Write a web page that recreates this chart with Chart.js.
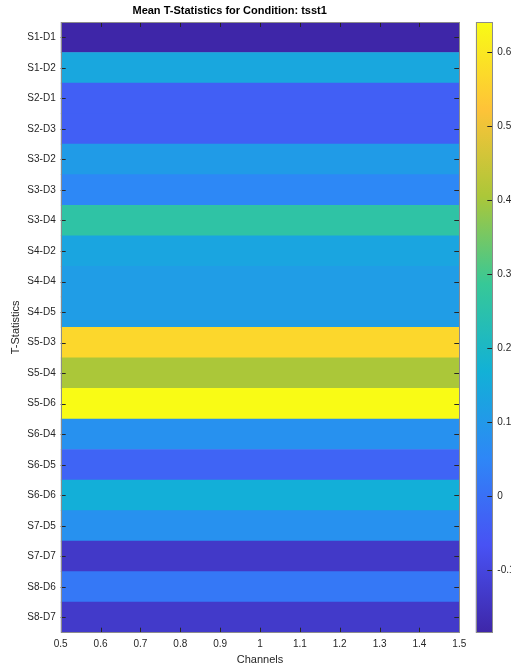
<!DOCTYPE html>
<html>
<head>
<meta charset="utf-8">
<script src="https://cdn.jsdelivr.net/npm/chart.js@4.4.1/dist/chart.umd.min.js"></script>
<style>
  html, body { margin: 0; padding: 0; background: #fff; }
  #wrap { position: relative; width: 511px; height: 668px; }
  #wrap canvas { position: absolute; left: 0; top: 0; }
</style>
</head>
<body>
<div id="wrap">
  <canvas id="main" width="511" height="668"></canvas>
  <canvas id="cbar" width="511" height="668"></canvas>
</div>
<script>
// ---- Data ----
const rowLabels = ['S1-D1','S1-D2','S2-D1','S2-D3','S3-D2','S3-D3','S3-D4','S4-D2','S4-D4','S4-D5',
                   'S5-D3','S5-D4','S5-D6','S6-D4','S6-D5','S6-D6','S7-D5','S7-D7','S8-D6','S8-D7'];
const meanT = [-0.185, 0.140, -0.037, -0.037, 0.108, 0.055, 0.261, 0.135, 0.112, 0.112,
               0.565, 0.405, 0.641, 0.079, -0.028, 0.163, 0.080, -0.135, 0.018, -0.132];
const channelX = 1;          // single channel column centred at x = 1
const cellWidth = 1;
const xTicks = [0.5, 0.6, 0.7, 0.8, 0.9, 1, 1.1, 1.2, 1.3, 1.4, 1.5];
const colorTicks = [-0.1, 0, 0.1, 0.2, 0.3, 0.4, 0.5, 0.6];
const cmin = -0.185, cmax = 0.641;

// parula-like colormap stops
const parula = [
  [0.0000, 62, 38, 168],
  [0.1429, 72, 82, 244],
  [0.2857, 46, 135, 247],
  [0.4286, 18, 177, 214],
  [0.5714, 55, 200, 151],
  [0.7143, 171, 199, 57],
  [0.8571, 254, 195, 56],
  [1.0000, 249, 251, 21]
];
function cmap(t) {
  t = Math.max(0, Math.min(1, t));
  for (let i = 1; i < parula.length; i++) {
    if (t <= parula[i][0]) {
      const a = parula[i-1], b = parula[i];
      const f = (t - a[0]) / (b[0] - a[0]);
      const c = [1,2,3].map(k => Math.round(a[k] + (b[k]-a[k]) * f));
      return `rgb(${c[0]},${c[1]},${c[2]})`;
    }
  }
  return 'rgb(249,251,21)';
}
const cellColors = meanT.map(v => cmap((v - cmin) / (cmax - cmin)));

const FONT = "'Liberation Sans', Arial, Helvetica, sans-serif";
const TXT = '#262626';
const BOX = '#8c8c8c';

// box + inward ticks plugin
const boxTicks = {
  id: 'boxTicks',
  afterDatasetsDraw(chart, args, opts) {
    const ctx = chart.ctx, a = chart.chartArea;
    ctx.save();
    ctx.strokeStyle = '#262626';
    ctx.lineWidth = 1;
    const L = 5;
    ctx.beginPath();
    if (opts.x) {
      const xs = chart.scales.x;
      xs.ticks.forEach(t => {
        const px = Math.round(xs.getPixelForValue(t.value)) + 0.5;
        ctx.moveTo(px, a.bottom); ctx.lineTo(px, a.bottom - L);
        ctx.moveTo(px, a.top); ctx.lineTo(px, a.top + L);
      });
    }
    const ys = chart.scales.y;
    ys.ticks.forEach((t, i) => {
      const py = Math.round(ys.getPixelForTick(i)) + 0.5;
      if (opts.leftTicks) { ctx.moveTo(a.left, py); ctx.lineTo(a.left + L, py); }
      ctx.moveTo(a.right, py); ctx.lineTo(a.right - L, py);
    });
    ctx.stroke();
    ctx.strokeStyle = BOX;
    ctx.strokeRect(Math.round(a.left) + 0.5, Math.round(a.top) + 0.5,
                   Math.round(a.right - a.left) - 1, Math.round(a.bottom - a.top) - 1);
    ctx.restore();
  }
};

// ---- Main heatmap ----
new Chart(document.getElementById('main'), {
  type: 'bar',
  data: {
    labels: rowLabels,
    datasets: [{
      data: meanT.map(() => [channelX - cellWidth / 2, channelX + cellWidth / 2]),
      backgroundColor: cellColors,
      borderWidth: 0,
      barPercentage: 1,
      categoryPercentage: 1
    }]
  },
  options: {
    indexAxis: 'y',
    responsive: false,
    animation: false,
    layout: { padding: { left: 0, right: 51.7, top: 0, bottom: 0 } },
    plugins: {
      legend: { display: false },
      tooltip: { enabled: false },
      title: {
        display: true,
        text: 'Mean T-Statistics for Condition: tsst1',
        color: '#000',
        font: { family: FONT, size: 11, weight: 'bold' },
        padding: { top: 4, bottom: 4.8 }
      },
      boxTicks: { x: true, leftTicks: true }
    },
    scales: {
      x: {
        type: 'linear',
        min: 0.5, max: 1.5,
        afterBuildTicks(s) { s.ticks = xTicks.map(v => ({ value: v })); },
        afterFit(s) { s.height = 35.3; },
        grid: { display: false, drawTicks: false },
        border: { display: false },
        ticks: {
          color: TXT, font: { family: FONT, size: 10 }, padding: 6, maxRotation: 0,
          autoSkip: false,
          callback: v => String(Number(v.toFixed(1)))
        },
        title: {
          display: true, text: 'Channels', color: TXT,
          font: { family: FONT, size: 11 }, padding: { top: 1, bottom: 1 }
        }
      },
      y: {
        type: 'category',
        afterFit(s) { s.width = 60.7; },
        grid: { display: false, drawTicks: false },
        border: { display: false },
        ticks: { color: TXT, font: { family: FONT, size: 10 }, padding: 5, autoSkip: false },
        title: {
          display: true, text: 'T-Statistics', color: TXT,
          font: { family: FONT, size: 11 }, padding: { top: 9, bottom: 0 }
        }
      }
    }
  },
  plugins: [boxTicks]
});

// ---- Colorbar ----
new Chart(document.getElementById('cbar'), {
  type: 'bar',
  data: {
    labels: ['cb'],
    datasets: [{
      data: [[cmin, cmax]],
      backgroundColor(ctx) {
        const ch = ctx.chart, ys = ch.scales.y;
        if (!ch.chartArea || !ys) return 'rgba(0,0,0,0)';
        const y0 = ys.getPixelForValue(cmin), y1 = ys.getPixelForValue(cmax);
        if (!isFinite(y0) || !isFinite(y1)) return 'rgba(0,0,0,0)';
        const g = ch.ctx.createLinearGradient(0, y0, 0, y1);
        parula.forEach(s => g.addColorStop(s[0], `rgb(${s[1]},${s[2]},${s[3]})`));
        return g;
      },
      borderWidth: 0,
      barPercentage: 1,
      categoryPercentage: 1
    }]
  },
  options: {
    responsive: false,
    animation: false,
    layout: { padding: { left: 475.7, right: 0, top: 22, bottom: 35.3 } },
    plugins: {
      legend: { display: false },
      tooltip: { enabled: false },
      boxTicks: { x: false, leftTicks: false }
    },
    scales: {
      x: { display: false },
      y: {
        position: 'right',
        type: 'linear',
        min: cmin, max: cmax,
        afterBuildTicks(s) { s.ticks = colorTicks.map(v => ({ value: v })); },
        afterFit(s) { s.width = 511 - 475.7 - 16.6; },
        grid: { display: false, drawTicks: false },
        border: { display: false },
        ticks: {
          color: TXT, font: { family: FONT, size: 10 }, padding: 5,
          callback: v => String(Number(v.toFixed(1)))
        }
      }
    }
  },
  plugins: [boxTicks]
});
</script>
</body>
</html>
